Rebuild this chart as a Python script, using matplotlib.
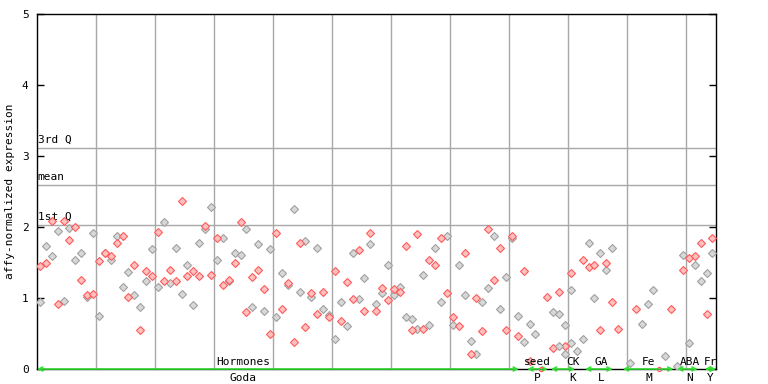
import numpy as np
import matplotlib
matplotlib.use("Agg")
import matplotlib.pyplot as plt

nan = np.nan

# expression values per sample slot (two replicate series)
red_vals = [1.45, 1.49, 2.08, 0.91, 2.08, 1.81, 2.00, 1.26, 1.04, 1.05,
            1.52, 1.63, 1.59, 1.77, 1.87, 1.01, 1.47, 0.55, 1.38, 1.31,
            1.93, 1.24, 1.39, 1.24, 2.36, 1.31, 1.38, 1.31, 2.01, 1.33,
            1.84, 1.19, 1.25, 1.50, 2.07, 0.80, 1.29, 1.39, 1.12, 0.50,
            1.91, 0.84, 1.21, 0.38, 1.77, 0.59, 1.07, 0.78, 1.08, 0.73,
            1.38, 0.67, 1.22, 0.98, 1.67, 0.81, 1.91, 0.81, 1.14, 0.97,
            1.12, 1.09, 1.73, 0.55, 1.90, 0.56, 1.54, 1.47, 1.84, 1.07,
            0.73, 0.60, 1.63, 0.21, 1.00, 0.53, 1.97, 1.26, 1.71, 0.55,
            1.87, 0.47, 1.38, 0.11, nan, nan, 1.01, 0.29, 1.08, 0.33,
            1.35, nan, 1.53, 1.43, 1.46, 0.55, 1.49, 0.95, 0.57, nan,
            nan, 0.84, nan, nan, nan, nan, nan, 0.84, nan, 1.39,
            1.57, 1.59, 1.78, 0.78, 1.85]
grey_vals = [0.94, 1.73, 1.59, 1.95, 0.96, 1.99, 1.53, 1.64, 1.01, 1.91,
             0.74, 1.64, 1.54, 1.87, 1.16, 1.36, 1.04, 0.88, 1.24, 1.69,
             1.16, 2.07, 1.21, 1.71, 1.05, 1.46, 0.90, 1.77, 1.97, 2.28,
             1.53, 1.85, 1.24, 1.63, 1.60, 1.97, 0.87, 1.76, 0.81, 1.69,
             0.73, 1.35, 1.18, 2.25, 1.09, 1.80, 1.02, 1.70, 0.84, 0.76,
             0.42, 0.94, 0.60, 1.64, 0.98, 1.28, 1.76, 0.91, 1.07, 1.47,
             1.04, 1.16, 0.73, 0.70, 0.57, 1.32, 0.62, 1.70, 0.94, 1.88,
             0.62, 1.46, 1.04, 0.39, 0.21, 0.95, 1.14, 1.88, 0.84, 1.29,
             1.84, 0.74, 0.38, 0.63, 0.49, nan, nan, 0.80, 0.77, 0.62,
             0.36, 0.25, 0.42, 1.77, 1.00, 1.63, 1.39, 1.71, nan, nan,
             0.08, nan, 0.63, 0.91, 1.11, nan, 0.18, nan, 0.04, 1.61,
             0.36, 1.47, 1.24, 1.35, 1.63]
extra_idx = [88, 89, 90]
extra_vals = [0.32, 0.21, 1.11]
zero_idx = [85, 105]

q1, mean_val, q3 = 2.03, 2.59, 3.11

groups_top = ["Hormones", "seed", "CK", "GA", "Fe", "ABA", "Fr"]
groups_bot = ["Goda", "P", "K", "L", "M", "N", "Y"]
group_span = [(0, 81.7), (83.1, 86.6), (87.1, 91.2), (92.9, 97.6),
              (99.3, 107.9), (108.5, 112.0), (113.2, 115.1)]
label_pos = [35.0, 84.8, 90.8, 95.7, 103.7, 110.7, 114.1]

FONT = "DejaVu Sans Mono"
FS = 8

fig = plt.figure(figsize=(7.68, 3.84), dpi=100)
ax = fig.add_axes([37 / 768, 15 / 384, 679 / 768, 355 / 384])
ax.set_xlim(0, 115.1)
ax.set_ylim(0, 5)

# grid
for gx in range(10, 115, 10):
    ax.axvline(gx, color="#a8a8a8", lw=1, zorder=1)
for yv, name in [(q3, "3rd Q"), (mean_val, "mean"), (q1, "1st Q")]:
    ax.axhline(yv, color="#a8a8a8", lw=1, zorder=1)
    ax.text(0.1, yv + 0.05, name, fontsize=FS, family=FONT, ha="left", va="bottom")

xs = np.arange(len(red_vals)) + 0.5
ax.plot(xs, grey_vals, ls="none", marker="D", ms=4.5, mfc="#d8d8d8", mec="#a0a0a0",
        mew=0.8, zorder=3)
ax.plot(xs, red_vals, ls="none", marker="D", ms=4.5, mfc="#ffc0c0", mec="#ff5a5a",
        mew=0.8, zorder=3)
ax.plot(np.array(extra_idx) + 0.5, extra_vals, ls="none", marker="D", ms=4.5,
        mfc="#d8d8d8", mec="#a0a0a0", mew=0.8, zorder=3)
ax.plot(np.array(zero_idx) + 0.5, [0] * len(zero_idx), ls="none", marker="o", ms=3,
        mfc="none", mec="#ff5a5a", mew=0.8, zorder=5, clip_on=False)

# group bars along the x axis
for (a, b) in group_span:
    ax.annotate("", xy=(a, 0), xytext=(b, 0),
                arrowprops=dict(arrowstyle="<->", color="#33dd33", lw=1.2,
                                mutation_scale=7, shrinkA=0, shrinkB=0),
                annotation_clip=False, zorder=4)
for t, b, p in zip(groups_top, groups_bot, label_pos):
    ax.text(p, 0.03, t, fontsize=FS, family=FONT, ha="center", va="bottom")
    ax.text(p, -0.05, b, fontsize=FS, family=FONT, ha="center", va="top")

ax.set_xticks([])
ax.set_yticks(range(6))
ax.set_yticklabels([str(i) for i in range(6)], fontsize=FS, family=FONT)
ax.tick_params(axis="y", direction="in", length=5, width=1, right=True, pad=6)
for s in ax.spines.values():
    s.set_color("black")
    s.set_linewidth(1)
ax.set_ylabel("affy-normalized expression", fontsize=FS, family=FONT, labelpad=5)

fig.savefig("out.png", dpi=100)
